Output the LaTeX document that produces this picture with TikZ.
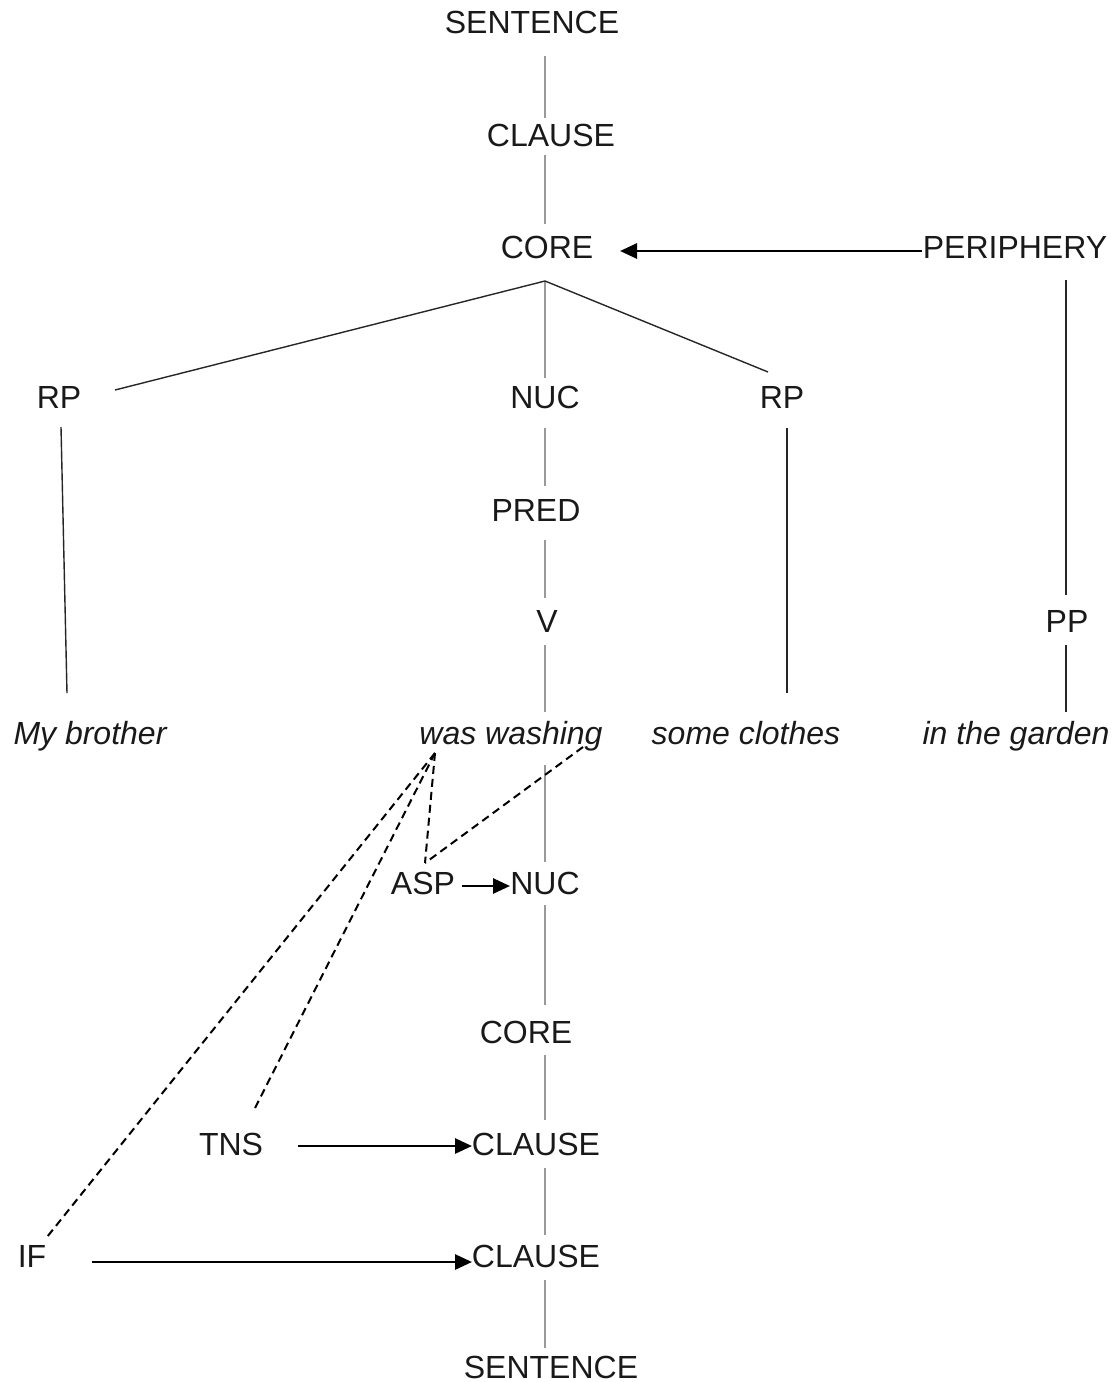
\documentclass[tikz,border=0pt]{standalone}
\usepackage{fontspec}
\setmainfont{Liberation Sans}
\usetikzlibrary{calc,arrows.meta}
\begin{document}
\begin{tikzpicture}[x=0.5pt,y=-0.5pt,
  lab/.style={anchor=base,inner sep=0pt,font=\fontsize{16pt}{19pt}\selectfont,text=black!90},
  ilab/.style={lab,font=\fontsize{16pt}{19pt}\selectfont\itshape},
  spineline/.style={draw=black!40,line width=1.2pt},
  treeline/.style={draw=black!85,line width=0.7pt},
  arr/.style={draw=black,line width=1.4pt,-{Triangle[length=8.5pt,width=7.5pt]}},
  dline/.style={draw=black,line width=1pt,dash pattern=on 4pt off 2.5pt}]
\useasboundingbox (0,0) rectangle (1117,1382);
\coordinate (spine) at (545,0);
% upper tree
\node[lab] (sentA) at (532,33) {SENTENCE};
\node[lab] (clauseA) at (551,146) {CLAUSE};
\node[lab] (coreA) at (547,258) {CORE};
\node[lab] (periph) at (1015,258) {PERIPHERY};
\node[lab] (rpL) at (59,408) {RP};
\node[lab] (nucA) at (545,408) {NUC};
\node[lab] (rpR) at (782,408) {RP};
\node[lab] (pred) at (536,521) {PRED};
\node[lab] (vv) at (547,632) {V};
\node[lab] (pp) at (1067,632) {PP};
\node[ilab] (bro) at (90,744) {My brother};
\node[ilab] (wash) at (511,744) {was washing};
\node[ilab] (clothes) at (746,744) {some clothes};
\node[ilab] (garden) at (1016,744) {in the garden};
% lower projection
\node[lab] (asp) at (423,894) {ASP};
\node[lab] (nucB) at (545,894) {NUC};
\node[lab] (coreB) at (526,1043) {CORE};
\node[lab] (tns) at (231,1155) {TNS};
\node[lab] (clauseB) at (536,1155) {CLAUSE};
\node[lab] (ifop) at (32,1267) {IF};
\node[lab] (clauseC) at (536,1267) {CLAUSE};
\node[lab] (sentB) at (551,1378) {SENTENCE};
% spine
\draw[spineline] ($(spine|-sentA.base)+(0,23)$) -- ($(spine|-clauseA.base)+(0,-28)$);
\draw[spineline] ($(spine|-clauseA.base)+(0,9)$) -- ($(spine|-coreA.base)+(0,-34)$);
\draw[spineline] ($(spine|-coreA.base)+(0,23)$) -- ($(spine|-nucA.base)+(0,-30)$);
\draw[spineline] ($(spine|-nucA.base)+(0,20)$) -- ($(spine|-pred.base)+(0,-35)$);
\draw[spineline] ($(spine|-pred.base)+(0,19)$) -- ($(spine|-vv.base)+(0,-34)$);
\draw[spineline] ($(spine|-vv.base)+(0,13)$) -- ($(spine|-wash.base)+(0,-32)$);
\draw[spineline] ($(spine|-wash.base)+(0,21)$) -- ($(spine|-nucB.base)+(0,-32)$);
\draw[spineline] ($(spine|-nucB.base)+(0,11)$) -- ($(spine|-coreB.base)+(0,-38)$);
\draw[spineline] ($(spine|-coreB.base)+(0,12)$) -- ($(spine|-clauseB.base)+(0,-35)$);
\draw[spineline] ($(spine|-clauseB.base)+(0,13)$) -- ($(spine|-clauseC.base)+(0,-32)$);
\draw[spineline] ($(spine|-clauseC.base)+(0,13)$) -- ($(spine|-sentB.base)+(0,-30)$);
% tree lines
\draw[treeline] ($(coreA.base)+(-2,23)$) -- ($(rpL.base)+(56,-18)$);
\draw[treeline] ($(coreA.base)+(-2,23)$) -- ($(rpR.base)+(-14,-36)$);
\draw[treeline] ($(rpL.base)+(2,19)$) -- ($(bro.base)+(-23,-51)$);
\draw[treeline] ($(rpR.base)+(5,20)$) -- ($(clothes.base)+(41,-51)$);
\draw[treeline] ($(periph.base)+(51,22)$) -- ($(pp.base)+(-1,-37)$);
\draw[treeline] ($(pp.base)+(-1,13)$) -- ($(garden.base)+(50,-32)$);
% arrows
\draw[arr] ($(periph.base)+(-93,-7)$) -- ($(coreA.base)+(73,-7)$);
\draw[arr] ($(asp.base)+(39,-8)$) -- ($(nucB.base)+(-35,-8)$);
\draw[arr] ($(tns.base)+(67,-9)$) -- ($(clauseB.base)+(-64,-9)$);
\draw[arr] ($(ifop.base)+(60,-5)$) -- ($(clauseC.base)+(-64,-5)$);
% dashed operator links
\draw[dline] ($(wash.base)+(-76,9)$) -- ($(asp.base)+(2,-31)$);
\draw[dline] ($(wash.base)+(72,3)$) -- ($(asp.base)+(2,-31)$);
\draw[dline] ($(wash.base)+(-76,9)$) -- ($(tns.base)+(22,-43)$);
\draw[dline] ($(wash.base)+(-76,9)$) -- ($(ifop.base)+(15,-30)$);
\end{tikzpicture}
\end{document}
